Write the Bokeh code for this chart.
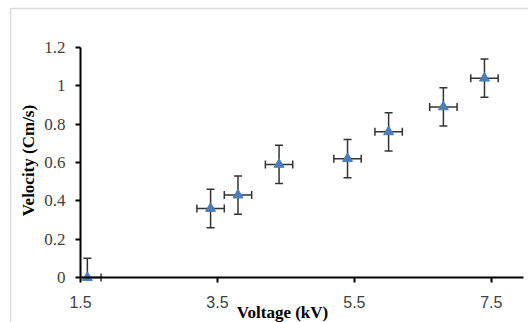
import math
from bokeh.plotting import figure
from bokeh.models import Range1d, FixedTicker, Label, BoxAnnotation, CustomJSTickFormatter, ColumnDataSource
from bokeh.embed import file_html
from bokeh.resources import INLINE

# data
voltage = [1.6, 3.4, 3.8, 4.4, 5.4, 6.0, 6.8, 7.4]
velocity = [0.0, 0.36, 0.43, 0.59, 0.62, 0.76, 0.89, 1.04]
voltage_err = [0.2, 0.2, 0.2, 0.2, 0.2, 0.2, 0.2, 0.2]
velocity_err = [0.1, 0.1, 0.1, 0.1, 0.1, 0.1, 0.1, 0.1]
x_ticks = [1.5, 3.5, 5.5, 7.5]
y_ticks = [0, 0.2, 0.4, 0.6, 0.8, 1.0, 1.2]
x_title = "Voltage (kV)"
y_title = "Velocity (Cm/s)"
x_axis_min, x_axis_max = 1.5, 7.97
y_axis_min, y_axis_max = 0.0, 1.2

# layout: the frame covers the whole canvas, axes are pinned inside it
W, H = 528, 322
AX_LEFT_PX, AX_RIGHT_PX = 80, 523
AX_BOTTOM_PX, AX_TOP_PX = 277, 47
sx = (AX_RIGHT_PX - AX_LEFT_PX) / (x_axis_max - x_axis_min)
sy = (AX_BOTTOM_PX - AX_TOP_PX) / (y_axis_max - y_axis_min)
def px2x(px):
    return x_axis_min + (px - AX_LEFT_PX) / sx
def py2y(py):
    return y_axis_min + (AX_BOTTOM_PX - py) / sy

# error bars clipped at the axes, as in the reference
xlo = [a - e for a, e in zip(voltage, voltage_err)]
xhi = [a + e for a, e in zip(voltage, voltage_err)]
ylo = [a - e for a, e in zip(velocity, velocity_err)]
yhi = [a + e for a, e in zip(velocity, velocity_err)]
src = ColumnDataSource(dict(
    x=voltage, y=velocity,
    xlo=[max(v, x_axis_min) for v in xlo], xhi=[min(v, x_axis_max) for v in xhi],
    ylo=[max(v, y_axis_min) for v in ylo], yhi=[min(v, y_axis_max) for v in yhi],
))
cap_v = ColumnDataSource(dict(
    x=[a for a, v in zip(voltage, ylo) if v >= y_axis_min] + list(voltage),
    y=[v for v in ylo if v >= y_axis_min] + list(yhi),
))
cap_h = ColumnDataSource(dict(
    x=[v for v in xlo if v >= x_axis_min] + [v for v in xhi if v <= x_axis_max],
    y=[b for b, v in zip(velocity, xlo) if v >= x_axis_min] + [b for b, v in zip(velocity, xhi) if v <= x_axis_max],
))

p = figure(width=W, height=H,
           x_range=Range1d(px2x(0), px2x(W)), y_range=Range1d(py2y(H), py2y(0)),
           output_backend="svg", toolbar_location=None,
           min_border_left=0, min_border_right=0, min_border_top=0, min_border_bottom=0)
p.outline_line_color = None
p.xgrid.visible = False
p.ygrid.visible = False
p.background_fill_color = "white"
p.border_fill_color = "white"

p.xaxis.fixed_location = y_axis_min
p.yaxis.fixed_location = x_axis_min
p.xaxis.bounds = (x_axis_min, x_axis_max)
p.yaxis.bounds = (y_axis_min, y_axis_max)

for ax in (p.xaxis[0], p.yaxis[0]):
    ax.axis_line_color = "black"
    ax.axis_line_width = 2
    ax.major_tick_line_color = "black"
    ax.major_tick_line_width = 2
    ax.major_tick_in = 0
    ax.major_tick_out = 5
    ax.minor_tick_line_color = None
    ax.major_label_text_color = "#404040"
    ax.formatter = CustomJSTickFormatter(code="return tick.toString();")

p.xaxis.ticker = FixedTicker(ticks=x_ticks)
p.yaxis.ticker = FixedTicker(ticks=y_ticks)
p.xaxis.major_label_text_font = "Liberation Sans"
p.xaxis.major_label_text_font_size = "16px"
p.xaxis.major_label_standoff = 13
p.yaxis.major_label_text_font = "Liberation Serif"
p.yaxis.major_label_text_font_size = "17px"
p.yaxis.major_label_standoff = 10

p.add_layout(Label(x=px2x(282), y=py2y(312), text=x_title, text_align="center", text_baseline="middle",
                   text_font="Liberation Serif", text_font_style="bold", text_font_size="17px",
                   text_color="black"))
p.add_layout(Label(x=px2x(28), y=py2y(160), text=y_title, angle=math.pi / 2,
                   text_align="center", text_baseline="middle",
                   text_font="Liberation Serif", text_font_style="bold", text_font_size="17px",
                   text_color="black"))

err_color = "#333333"
p.segment(x0="x", y0="ylo", x1="x", y1="yhi", source=src, line_color=err_color, line_width=1.5)
p.segment(x0="xlo", y0="y", x1="xhi", y1="y", source=src, line_color=err_color, line_width=1.5)
p.scatter(x="x", y="y", source=cap_v, marker="dash", size=8, line_color=err_color, line_width=1.5)
p.scatter(x="x", y="y", source=cap_h, marker="dash", size=8, angle=math.pi / 2, line_color=err_color, line_width=1.5)
p.scatter(x="x", y="y", source=src, marker="triangle", size=10, fill_color="#4A7EBB", line_color="#4A7EBB")

p.add_layout(BoxAnnotation(left=px2x(10), right=px2x(W + 50), top=py2y(8), bottom=py2y(H + 50),
                           fill_color=None, fill_alpha=0, line_color="#8c8c8c", line_width=1.5))

open("out.html", "w").write(file_html(p, INLINE))
